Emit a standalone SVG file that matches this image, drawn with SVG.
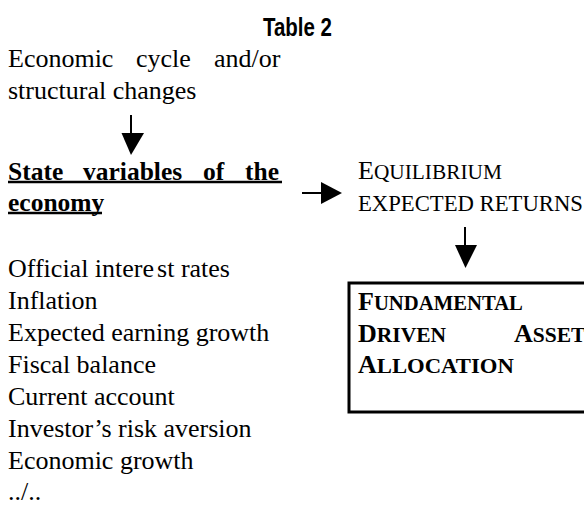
<svg xmlns="http://www.w3.org/2000/svg" width="584" height="505" viewBox="0 0 584 505">
  <style>
    .serif { font-family: "Liberation Serif", "Times New Roman", serif; font-size: 26px; fill: #000; }
    .bold { font-weight: bold; font-size: 25.5px; }
    .title { font-family: "Liberation Sans Narrow", "Liberation Sans", Arial, sans-serif; font-weight: bold; font-size: 25px; fill: #000; }
    .cap { font-size: 26px; }
    .sc { font-size: 21.5px; }
    .caps { font-size: 22.5px; }
    .bcap { font-size: 26px; font-weight: bold; }
    .bsc { font-size: 21.5px; font-weight: bold; }
    .shaft { stroke: #000; stroke-width: 2; fill: none; }
    .head { fill: #000; stroke: none; }
    .uline { stroke: #000; stroke-width: 2.5; }
  </style>

  <!-- heading -->
  <text class="title" x="263" y="36" textLength="69" lengthAdjust="spacingAndGlyphs">Table 2</text>

  <!-- driver node -->
  <g id="drivers">
    <text class="serif" y="67">
      <tspan x="8">Economic</tspan><tspan x="136">cycle</tspan><tspan x="214">and/or</tspan>
    </text>
    <text class="serif" x="8" y="99">structural changes</text>
  </g>

  <!-- state variables node -->
  <g id="state-variables">
    <text class="serif bold" y="180">
      <tspan x="8">State</tspan><tspan x="83">variables</tspan><tspan x="203">of</tspan><tspan x="245">the</tspan>
    </text>
    <line class="uline" x1="8" y1="182" x2="282" y2="182"/>
    <text class="serif bold" x="8" y="211">economy</text>
    <line class="uline" x1="8" y1="213" x2="102" y2="213"/>
    <text class="serif" x="8" y="277">Official intere<tspan dx="3">st</tspan> rates</text>
    <text class="serif" x="8" y="309">Inflation</text>
    <text class="serif" x="8" y="341">Expected earning growth</text>
    <text class="serif" x="8" y="373">Fiscal balance</text>
    <text class="serif" x="8" y="405">Current account</text>
    <text class="serif" x="8" y="437">Investor’s risk aversion</text>
    <text class="serif" x="8" y="469">Economic growth</text>
    <text class="serif" x="8" y="500">../..</text>
  </g>

  <!-- equilibrium node -->
  <g id="equilibrium">
    <text class="serif" x="358" y="179"><tspan class="cap">E</tspan><tspan class="sc" textLength="128" lengthAdjust="spacingAndGlyphs">QUILIBRIUM</tspan></text>
    <text class="serif caps" x="358" y="211" textLength="225" lengthAdjust="spacingAndGlyphs">EXPECTED RETURNS</text>
  </g>

  <!-- allocation node -->
  <g id="allocation">
    <rect x="349" y="283" width="260" height="129" fill="none" stroke="#000" stroke-width="3"/>
    <text class="serif" x="358" y="310"><tspan class="bcap">F</tspan><tspan class="bsc" textLength="149" lengthAdjust="spacingAndGlyphs">UNDAMENTAL</tspan></text>
    <text class="serif" y="342"><tspan class="bcap" x="358">D</tspan><tspan class="bsc">RIVEN</tspan><tspan class="bcap" x="514">A</tspan><tspan class="bsc">SSET</tspan></text>
    <text class="serif" x="358" y="373"><tspan class="bcap">A</tspan><tspan class="bsc" textLength="137" lengthAdjust="spacingAndGlyphs">LLOCATION</tspan></text>
  </g>

  <!-- connectors -->
  <g id="connectors">
    <line class="shaft" x1="131" y1="115" x2="131" y2="134"/>
    <polygon class="head" points="121.5,133 144,133 131,155"/>
    <line class="shaft" x1="302" y1="193" x2="322" y2="193"/>
    <polygon class="head" points="321,182 321,204 342,193"/>
    <line class="shaft" x1="465" y1="227" x2="465" y2="246"/>
    <polygon class="head" points="455,245 477,245 465.5,268"/>
  </g>
</svg>
